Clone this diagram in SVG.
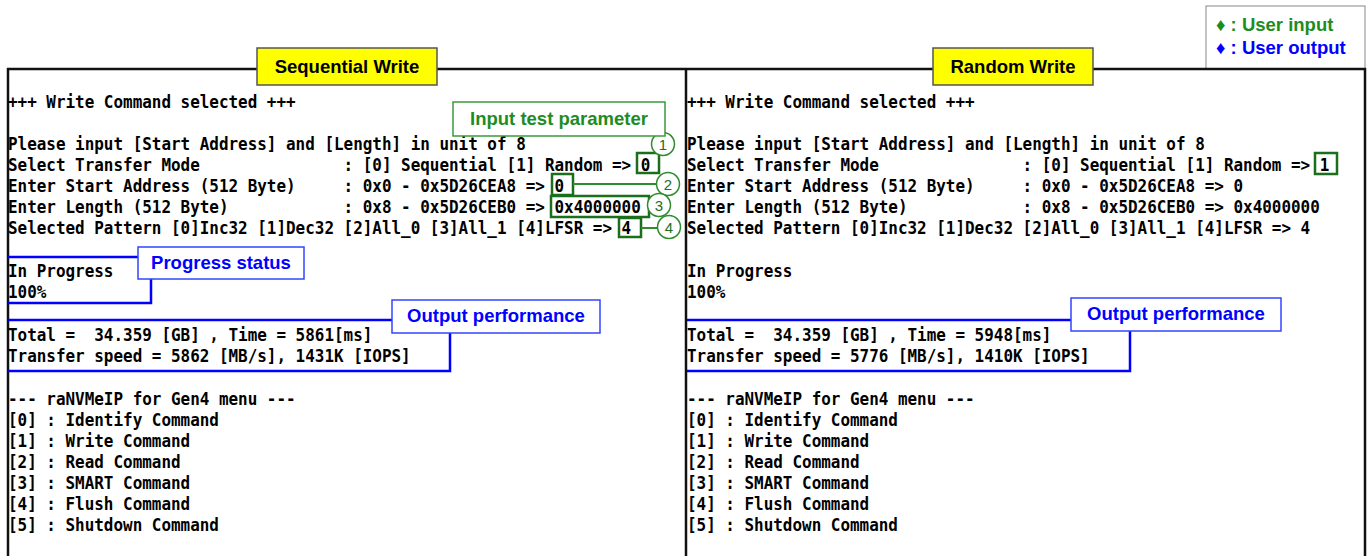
<svg xmlns="http://www.w3.org/2000/svg" width="1368" height="556" viewBox="0 0 1368 556">
<style>
.term{font-family:"DejaVu Sans Mono","Liberation Mono",monospace;font-size:17.8px;font-weight:bold;fill:#000;white-space:pre}
.lbl{font-family:"Liberation Sans",Arial,sans-serif;font-weight:bold;font-size:18.5px;text-anchor:middle}
.leg{font-family:"Liberation Sans",Arial,sans-serif;font-weight:bold;font-size:18.5px}
.title{fill:#ffff00;stroke:#555;stroke-width:1.5}
.gbox{fill:#fff;stroke:#3a9a3a;stroke-width:1.5}
.gsel{fill:none;stroke:#1b6e1b;stroke-width:2.5}
.bbox{fill:#fff;stroke:#3344ff;stroke-width:1.5}
.bline{fill:none;stroke:#0000ff;stroke-width:2.5}
.circ{fill:#fff;stroke:#2e8b2e;stroke-width:1.5}
.num{font-family:"Liberation Sans",Arial,sans-serif;font-size:15px;fill:#1e6e1e;text-anchor:middle}
.border{fill:none;stroke:#111;stroke-width:2.5}
.conn{fill:none;stroke:#2e8b2e;stroke-width:2}
</style>
<rect width="1368" height="556" fill="#fff"/>
<g id="legend">
<rect x="1206" y="6" width="159" height="63" fill="#fff" stroke="#888" stroke-width="1"/>
<text class="leg" x="1216" y="31" fill="#1e8c1e">♦ : User input</text>
<text class="leg" x="1216" y="54" fill="#0000ff">♦ : User output</text>
</g>
<g id="frame">
<path class="border" d="M7,69 H1366 M8,68 V556 M686,68 V556 M1365,68 V556"/>
</g>
<g id="panel-left" transform="translate(8,0) scale(0.8959,1)" xml:space="preserve">
<text class="term" y="108">+++ Write Command selected +++</text>
<text class="term" y="150">Please input [Start Address] and [Length] in unit of 8</text>
<text class="term" y="171">Select Transfer Mode               : [0] Sequential [1] Random => 0</text>
<text class="term" y="192">Enter Start Address (512 Byte)     : 0x0 - 0x5D26CEA8 => 0</text>
<text class="term" y="213">Enter Length (512 Byte)            : 0x8 - 0x5D26CEB0 => 0x4000000</text>
<text class="term" y="234">Selected Pattern [0]Inc32 [1]Dec32 [2]All_0 [3]All_1 [4]LFSR => 4</text>
<text class="term" y="277">In Progress</text>
<text class="term" y="298">100%</text>
<text class="term" y="341">Total =  34.359 [GB] , Time = 5861[ms]</text>
<text class="term" y="362">Transfer speed = 5862 [MB/s], 1431K [IOPS]</text>
<text class="term" y="405">--- raNVMeIP for Gen4 menu ---</text>
<text class="term" y="426">[0] : Identify Command</text>
<text class="term" y="447">[1] : Write Command</text>
<text class="term" y="468">[2] : Read Command</text>
<text class="term" y="489">[3] : SMART Command</text>
<text class="term" y="510">[4] : Flush Command</text>
<text class="term" y="531">[5] : Shutdown Command</text>
</g>
<g id="panel-right" transform="translate(687,0) scale(0.8959,1)" xml:space="preserve">
<text class="term" y="108">+++ Write Command selected +++</text>
<text class="term" y="150">Please input [Start Address] and [Length] in unit of 8</text>
<text class="term" y="171">Select Transfer Mode               : [0] Sequential [1] Random => 1</text>
<text class="term" y="192">Enter Start Address (512 Byte)     : 0x0 - 0x5D26CEA8 => 0</text>
<text class="term" y="213">Enter Length (512 Byte)            : 0x8 - 0x5D26CEB0 => 0x4000000</text>
<text class="term" y="234">Selected Pattern [0]Inc32 [1]Dec32 [2]All_0 [3]All_1 [4]LFSR => 4</text>
<text class="term" y="277">In Progress</text>
<text class="term" y="298">100%</text>
<text class="term" y="341">Total =  34.359 [GB] , Time = 5948[ms]</text>
<text class="term" y="362">Transfer speed = 5776 [MB/s], 1410K [IOPS]</text>
<text class="term" y="405">--- raNVMeIP for Gen4 menu ---</text>
<text class="term" y="426">[0] : Identify Command</text>
<text class="term" y="447">[1] : Write Command</text>
<text class="term" y="468">[2] : Read Command</text>
<text class="term" y="489">[3] : SMART Command</text>
<text class="term" y="510">[4] : Flush Command</text>
<text class="term" y="531">[5] : Shutdown Command</text>
</g>
<g id="title-seq">
<rect class="title" x="257" y="48" width="180" height="37"/>
<text class="lbl" x="347" y="73" fill="#000">Sequential Write</text>
</g>
<g id="title-rand">
<rect class="title" x="933" y="48" width="160" height="37"/>
<text class="lbl" x="1013" y="73" fill="#000">Random Write</text>
</g>
<g id="input-selections">
<rect class="gsel" x="637" y="153" width="22" height="20"/>
<rect class="gsel" x="552" y="174" width="21" height="21"/>
<rect class="gsel" x="551" y="196" width="98" height="21"/>
<rect class="gsel" x="619" y="218" width="22" height="19"/>
<rect class="gsel" x="1315" y="153" width="22" height="21"/>
</g>
<g id="connectors">
<line class="conn" x1="573" y1="184" x2="657" y2="184"/>
<line class="conn" x1="641" y1="228" x2="658" y2="228"/>
</g>
<g id="markers">
<circle class="circ" cx="663" cy="144" r="11.5"/><text class="num" x="663" y="149.5">1</text>
<circle class="circ" cx="668" cy="184" r="11.5"/><text class="num" x="668" y="189.5">2</text>
<circle class="circ" cx="659" cy="205" r="11.5"/><text class="num" x="659" y="210.5">3</text>
<circle class="circ" cx="669" cy="227" r="11.5"/><text class="num" x="669" y="232.5">4</text>
</g>
<g id="label-input">
<rect class="gbox" x="453" y="102" width="212" height="34"/>
<text class="lbl" x="559" y="125" fill="#1e8c1e">Input test parameter</text>
</g>
<g id="progress-left">
<path class="bline" d="M8,257 H138 M151,279 V303 H8"/>
<rect class="bbox" x="138" y="247" width="166" height="32"/>
<text class="lbl" x="221" y="269" fill="#0000ff">Progress status</text>
</g>
<g id="output-left">
<path class="bline" d="M8,320 H392 M450,333 V371 H8"/>
<rect class="bbox" x="392" y="300" width="208" height="33"/>
<text class="lbl" x="496" y="322" fill="#0000ff">Output performance</text>
</g>
<g id="output-right">
<path class="bline" d="M687,320 H1071 M1130,331 V371 H687"/>
<rect class="bbox" x="1071" y="298" width="210" height="33"/>
<text class="lbl" x="1176" y="320" fill="#0000ff">Output performance</text>
</g>
</svg>
